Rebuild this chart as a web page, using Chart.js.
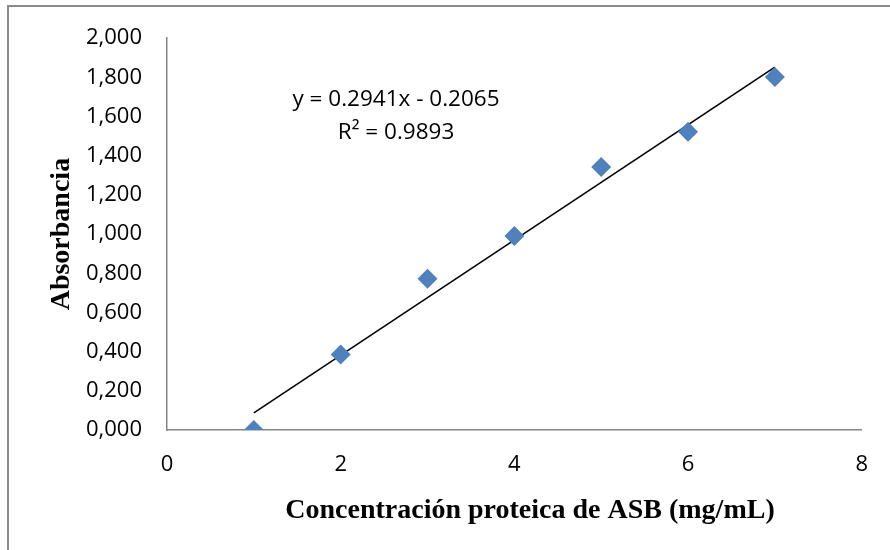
<!DOCTYPE html>
<html>
<head>
<meta charset="utf-8">
<script src="https://cdn.jsdelivr.net/npm/chart.js@4.4.1/dist/chart.umd.min.js"></script>
<style>
  html, body { margin: 0; padding: 0; background: #fff; }
  #wrap { width: 890px; height: 550px; position: relative; }
</style>
</head>
<body>
<div id="wrap"><canvas id="curva" width="890" height="550"></canvas></div>
<script>
// Datos de la curva de calibración (ASB)
const concentracion = [1, 2, 3, 4, 5, 6, 7];
const absorbancia = [0.000, 0.386, 0.772, 0.990, 1.342, 1.523, 1.802];

// Línea de tendencia (Excel)
const pendiente = 0.2941;
const intercepto = -0.2065;
const rangoTendencia = [1, 7];
const ecuacionTexto = ['y = 0.2941x - 0.2065', 'R\u00B2 = 0.9893'];

// Etiquetas de los ejes
const xTickLabels = ['0', '2', '4', '6', '8'];
const yTickLabels = ['0,000', '0,200', '0,400', '0,600', '0,800', '1,000',
                     '1,200', '1,400', '1,600', '1,800', '2,000'];
const xTitulo = 'Concentración proteica de ASB (mg/mL)';
const yTitulo = 'Absorbancia';

const puntos = concentracion.map((x, i) => ({ x: x, y: absorbancia[i] }));
const tendencia = rangoTendencia.map(x => ({ x: x, y: pendiente * x + intercepto }));

const fuenteTicks = { family: '"Open Sans", sans-serif', size: 22 };
const fuenteTitulo = { family: '"Liberation Serif", "Times New Roman", serif', size: 28, weight: 'bold' };

// Marco exterior, título del eje X y ecuación
const marco = {
    id: 'marco',
    beforeDraw(chart) {
        const ctx = chart.ctx;
        ctx.save();
        ctx.strokeStyle = '#8a8a8a';
        ctx.lineWidth = 2;
        ctx.beginPath();
        ctx.moveTo(8, 550);
        ctx.lineTo(8, 6);
        ctx.lineTo(890, 6);
        ctx.stroke();
        ctx.restore();
    },
    afterDraw(chart) {
        const ctx = chart.ctx;
        ctx.save();
        ctx.fillStyle = '#000';
        ctx.textAlign = 'center';
        ctx.textBaseline = 'middle';
        ctx.font = 'bold 28px "Liberation Serif", "Times New Roman", serif';
        ctx.fillText(xTitulo, 530, 511);
        ctx.font = '22.5px "Open Sans", sans-serif';
        ctx.fillText(ecuacionTexto[0], 396, 100);
        ctx.fillText(ecuacionTexto[1], 396, 133);
        ctx.restore();
    }
};

const ctx = document.getElementById('curva').getContext('2d');
new Chart(ctx, {
    type: 'scatter',
    data: {
        datasets: [
            {
                label: 'Absorbancia',
                data: puntos,
                pointStyle: 'rectRot',
                pointRadius: 10,
                pointHoverRadius: 10,
                backgroundColor: '#4F81BD',
                borderColor: '#4F81BD',
                borderWidth: 0
            },
            {
                label: 'Lineal',
                type: 'line',
                data: tendencia,
                borderColor: '#000',
                borderWidth: 1.6,
                pointRadius: 0,
                fill: false
            }
        ]
    },
    options: {
        responsive: false,
        animation: false,
        devicePixelRatio: 1,
        layout: { padding: { left: 45, right: 22, top: 36, bottom: 21 } },
        plugins: {
            legend: { display: false },
            tooltip: { enabled: false }
        },
        scales: {
            x: {
                type: 'linear',
                min: 0,
                max: 8,
                afterFit(scale) { scale.height = 99; },
                grid: { display: false, drawTicks: false },
                border: { display: true, color: '#868686', width: 1.5 },
                ticks: {
                    stepSize: 2,
                    color: '#000',
                    font: fuenteTicks,
                    padding: 22,
                    maxRotation: 0,
                    callback: (v) => xTickLabels[v / 2]
                },
                title: { display: false }
            },
            y: {
                type: 'linear',
                min: 0,
                max: 2,
                afterFit(scale) { scale.width = 122; },
                grid: { display: false, drawTicks: false },
                border: { display: true, color: '#868686', width: 1.5 },
                ticks: {
                    stepSize: 0.2,
                    color: '#000',
                    font: fuenteTicks,
                    padding: 25,
                    callback: (v, i) => yTickLabels[i]
                },
                title: {
                    display: true,
                    text: yTitulo,
                    color: '#000',
                    font: fuenteTitulo,
                    padding: 0
                }
            }
        }
    },
    plugins: [marco]
});
</script>
</body>
</html>
